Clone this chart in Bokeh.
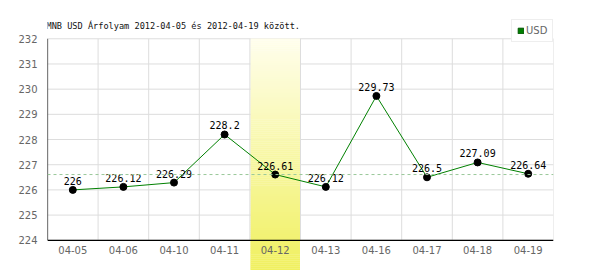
import numpy as np
from bokeh.plotting import figure
from bokeh.models import ColumnDataSource, Range1d, FixedTicker, Span, Legend, LegendItem
from bokeh.core.properties import value
from bokeh.embed import file_html
from bokeh.resources import INLINE

# ---- data ----
dates = ["04-05", "04-06", "04-10", "04-11", "04-12", "04-13", "04-16", "04-17", "04-18", "04-19"]
usd = [226.0, 226.12, 226.29, 228.2, 226.61, 226.12, 229.73, 226.5, 227.09, 226.64]
labels = ["226", "226.12", "226.29", "228.2", "226.61", "226.12", "229.73", "226.5", "227.09", "226.64"]
y_ticks = [224, 225, 226, 227, 228, 229, 230, 231, 232]
ref_value = 226.61
highlight = "04-12"
title = "MNB USD Árfolyam 2012-04-05 és 2012-04-19 között."
series_name = "USD"

# ---- layout ----
PX_PER_UNIT = 25.0
y_lo, y_hi = y_ticks[0], y_ticks[-1]
y_bottom = y_lo - 30 / PX_PER_UNIT
y_top = y_hi + 38 / PX_PER_UNIT
n = len(dates)
xs = list(range(n))

p = figure(width=600, height=270, output_backend="svg", toolbar_location=None,
           x_range=Range1d(-0.5, n - 0.5), y_range=Range1d(y_bottom, y_top),
           x_axis_location=None, min_border_left=47, min_border_right=47,
           min_border_top=0, min_border_bottom=0)
p.outline_line_color = None
p.grid.visible = False
p.background_fill_color = "white"
p.border_fill_color = "white"

yax = p.yaxis[0]
yax.ticker = FixedTicker(ticks=y_ticks)
yax.axis_line_color = None
yax.major_tick_line_color = None
yax.minor_tick_line_color = None
yax.major_label_standoff = 4
yax.major_label_text_color = "#666666"
yax.major_label_text_font = "DejaVu Sans"
yax.major_label_text_font_size = "10px"

grid_c = "#dddddd"
# horizontal grid lines
p.segment(x0=[-0.5] * len(y_ticks), x1=[n - 0.5] * len(y_ticks), y0=y_ticks, y1=y_ticks,
          line_color=grid_c, line_width=1)

# highlight band with vertical gradient
hi = dates.index(highlight)
steps = 115
edges = np.linspace(y_bottom, y_hi, steps + 1)
top_rgb = np.array([255, 254, 236])
bot_rgb = np.array([240, 240, 96])
cols = []
for k in range(steps):
    t = k / (steps - 1)
    c = bot_rgb + (top_rgb - bot_rgb) * t
    cols.append("#%02x%02x%02x" % tuple(int(round(v)) for v in c))
p.quad(left=[hi - 0.49] * steps, right=[hi + 0.49] * steps, bottom=edges[:-1], top=edges[1:] + 0.01,
       fill_color=cols, line_color=None)

# vertical grid lines
vx = [i + 0.5 for i in range(n)]
p.segment(x0=vx, x1=vx, y0=[y_lo] * n, y1=[y_hi] * n, line_color=grid_c, line_width=1)

# axes lines
p.segment(x0=[-0.5, -0.5], x1=[-0.5, n - 0.5], y0=[y_lo, y_lo], y1=[y_hi, y_lo],
          line_color="black", line_width=1.2)

# reference dashed line
p.add_layout(Span(location=ref_value, dimension="width", line_color="#99c899",
                  line_dash="3 3", line_width=1))

src = ColumnDataSource(dict(x=xs, y=usd, lab=labels, d=dates, ly=[y_lo] * n))
p.line("x", "y", source=src, line_color="#008000", line_width=1)
p.scatter("x", "y", source=src, size=7, fill_color="black", line_color="black")
p.text("x", "y", text="lab", source=src, text_align="center", text_baseline="bottom",
       y_offset=-5, text_font=value("DejaVu Sans Mono"), text_font_size="10px", text_color="black")

# x tick labels
p.text("x", "ly", text="d", source=src, text_align="center", text_baseline="middle",
       y_offset=10, text_font=value("DejaVu Sans"), text_font_size="10px", text_color="#666666")

# title
p.text(x=[-0.5], y=[y_hi], text=[title], x_offset=-1, y_offset=-13, text_align="left",
       text_baseline="middle", text_font=value("DejaVu Sans Mono"),
       text_font_size="8.6px", text_color="#111111")

# legend
dummy = p.quad(left=[float("nan")], right=[float("nan")], bottom=[float("nan")], top=[float("nan")],
               fill_color="#008000", line_color="#005500")
leg = Legend(items=[LegendItem(label=series_name, renderers=[dummy])], location=(464, 228),
             glyph_width=7, glyph_height=7, label_standoff=2, padding=5, margin=0,
             label_height=10, label_text_font="DejaVu Sans", label_text_font_size="10px",
             label_text_color="#666666", border_line_color="#dddddd",
             background_fill_color="white", background_fill_alpha=1.0)
p.add_layout(leg)

open("out.html", "w").write(file_html(p, INLINE))
